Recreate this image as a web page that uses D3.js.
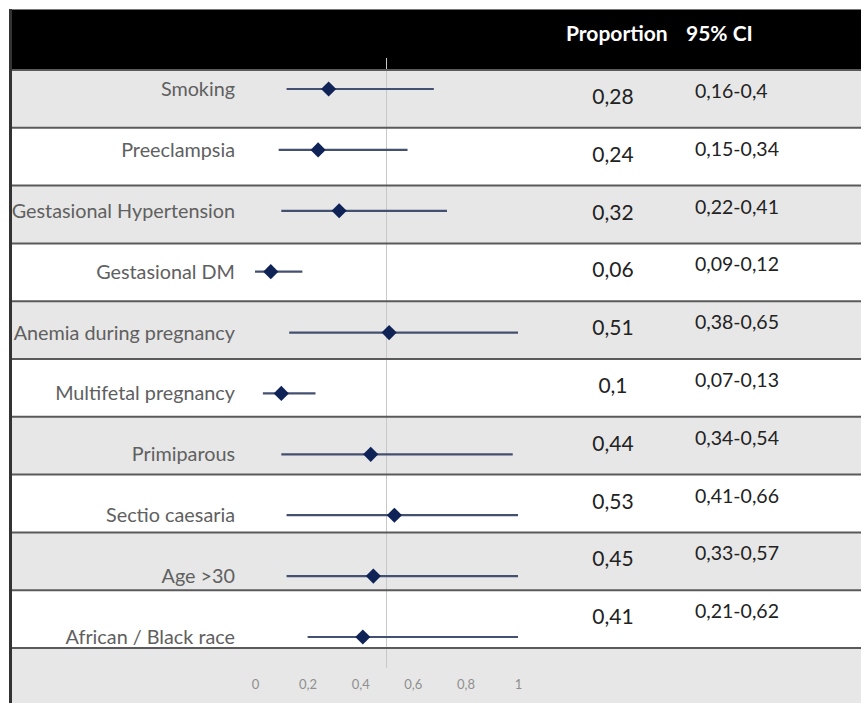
<!DOCTYPE html>
<html>
<head>
<meta charset="utf-8">
<script src="https://cdn.jsdelivr.net/npm/d3@7"></script>
<style>
  html, body { margin: 0; padding: 0; background: #ffffff; }
  svg { display: block; }
</style>
</head>
<body>
<svg id="chart" width="861" height="703"></svg>
<script>
// ---- data ----
const categories = [
  "Smoking", "Preeclampsia", "Gestasional Hypertension", "Gestasional DM",
  "Anemia during pregnancy", "Multifetal pregnancy", "Primiparous",
  "Sectio caesaria", "Age >30", "African / Black race"
];
const proportion = [0.28, 0.24, 0.32, 0.06, 0.51, 0.10, 0.44, 0.53, 0.45, 0.41];
const ciLow  = [0.16, 0.15, 0.22, 0.09, 0.38, 0.07, 0.34, 0.41, 0.33, 0.21];
const ciHigh = [0.40, 0.34, 0.41, 0.12, 0.65, 0.13, 0.54, 0.66, 0.57, 0.62];
const proportionLabels = ["0,28", "0,24", "0,32", "0,06", "0,51", "0,1", "0,44", "0,53", "0,45", "0,41"];
const ciLabels = ["0,16-0,4", "0,15-0,34", "0,22-0,41", "0,09-0,12", "0,38-0,65",
                  "0,07-0,13", "0,34-0,54", "0,41-0,66", "0,33-0,57", "0,21-0,62"];
const tickValues = [0, 0.2, 0.4, 0.6, 0.8, 1];
const referenceValue = 0.5;
const headerLabels = ["Proportion", "95% CI"];

// ---- layout ----
const W = 861, H = 703;
const frameLeft = 10, frameTop = 10;
const headerBottom = 70, rowsBottom = 648;
const font = "Lato, 'Open Sans', sans-serif";

const svg = d3.select("#chart");

// table rows
const rowY = d3.scaleBand().domain(categories).range([headerBottom, rowsBottom]);
// plot scales (error bars drawn as value -low / +high, clipped to axis like the source)
const x = d3.scaleLinear().domain([0, 1]).range([255, 518]).clamp(true);
const y = d3.scalePoint().domain(categories).range([89, 637]);

// header
svg.append("rect").attr("x", frameLeft).attr("y", frameTop)
  .attr("width", W - frameLeft).attr("height", headerBottom - frameTop).attr("fill", "#000");
svg.append("line").attr("x1", frameLeft).attr("x2", W).attr("y1", frameTop - 0.5).attr("y2", frameTop - 0.5)
  .attr("stroke", "#777").attr("stroke-width", 1);

// row backgrounds
svg.selectAll("rect.row").data(categories).join("rect")
  .attr("class", "row")
  .attr("x", frameLeft).attr("width", W - frameLeft)
  .attr("y", d => rowY(d)).attr("height", rowY.bandwidth())
  .attr("fill", (d, i) => i % 2 === 0 ? "#e7e7e7" : "#ffffff");
// axis row background
svg.append("rect").attr("x", frameLeft).attr("y", rowsBottom)
  .attr("width", W - frameLeft).attr("height", H - rowsBottom).attr("fill", "#e7e7e7");

// reference line
svg.append("line")
  .attr("x1", x(referenceValue)).attr("x2", x(referenceValue))
  .attr("y1", 58).attr("y2", 668)
  .attr("stroke", "#c8c8c8").attr("stroke-width", 1);

// row separators
const seps = categories.map(c => rowY(c)).concat([rowsBottom]);
svg.selectAll("line.sep").data(seps).join("line")
  .attr("class", "sep")
  .attr("x1", frameLeft).attr("x2", W)
  .attr("y1", d => d).attr("y2", d => d)
  .attr("stroke", "#5a5a5a").attr("stroke-width", 2);

// left border
svg.append("line").attr("x1", frameLeft + 0.5).attr("x2", frameLeft + 0.5)
  .attr("y1", frameTop - 1).attr("y2", H)
  .attr("stroke", "#333").attr("stroke-width", 3);

// header texts
svg.append("text").attr("x", 566).attr("y", 41)
  .attr("font-family", font).attr("font-weight", "bold").attr("font-size", 21)
  .attr("fill", "#fff").text(headerLabels[0]);
svg.append("text").attr("x", 686).attr("y", 41)
  .attr("font-family", font).attr("font-weight", "bold").attr("font-size", 21)
  .attr("fill", "#fff").text(headerLabels[1]);

// category labels
svg.selectAll("text.cat").data(categories).join("text")
  .attr("class", "cat")
  .attr("x", 235).attr("y", d => y(d) + 7)
  .attr("text-anchor", "end")
  .attr("font-family", font).attr("font-size", 19.8)
  .attr("fill", "#606060")
  .text(d => d);

// error bars
svg.selectAll("line.err").data(categories).join("line")
  .attr("class", "err")
  .attr("x1", (d, i) => x(proportion[i] - ciLow[i]))
  .attr("x2", (d, i) => x(proportion[i] + ciHigh[i]))
  .attr("y1", d => y(d)).attr("y2", d => y(d))
  .attr("stroke", "#44506f").attr("stroke-width", 2.2);

// markers
const diamond = d3.symbol().type(d3.symbolSquare).size(115);
svg.selectAll("path.pt").data(categories).join("path")
  .attr("class", "pt")
  .attr("d", diamond)
  .attr("transform", (d, i) => `translate(${x(proportion[i])},${y(d)}) rotate(45)`)
  .attr("fill", "#0f2357");

// proportion values
svg.selectAll("text.prop").data(categories).join("text")
  .attr("class", "prop")
  .attr("x", 613).attr("y", d => rowY(d) + 34)
  .attr("text-anchor", "middle")
  .attr("font-family", font).attr("font-size", 21)
  .attr("fill", "#222")
  .text((d, i) => proportionLabels[i]);

// CI values
svg.selectAll("text.ci").data(categories).join("text")
  .attr("class", "ci")
  .attr("x", 695).attr("y", d => rowY(d) + 28)
  .attr("font-family", font).attr("font-size", 19.5)
  .attr("fill", "#222")
  .text((d, i) => ciLabels[i]);

// x axis
const axis = d3.axisBottom(x).tickValues(tickValues)
  .tickSize(0).tickPadding(0)
  .tickFormat(d => String(d).replace(".", ","));
const gAxis = svg.append("g").attr("transform", "translate(0,680)").call(axis);
gAxis.select(".domain").remove();
gAxis.selectAll("text").attr("font-family", font).attr("font-size", 13).attr("fill", "#8f8f8f");
</script>
</body>
</html>
